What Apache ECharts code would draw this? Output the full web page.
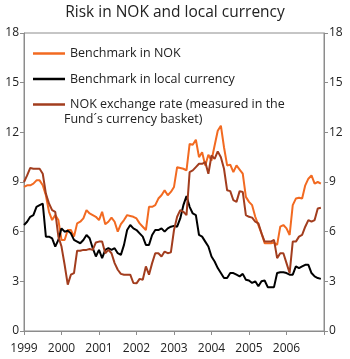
<!DOCTYPE html>
<html>
<head>
<meta charset="utf-8">
<script src="https://cdn.jsdelivr.net/npm/echarts@6/dist/echarts.min.js"></script>
<style>html,body{margin:0;padding:0;background:#fff}#c{width:350px;height:359px}</style>
</head>
<body>
<div id="c"></div>
<script>
// Monthly observations, Jan 1999 .. Dec 2006
const yearLabels = ['1999','2000','2001','2002','2003','2004','2005','2006'];
const yTicks = [0, 3, 6, 9, 12, 15, 18];

const nokBenchmark = [
  8.7, 8.8, 8.8, 8.9, 9.1, 9.1, 8.8, 8.2, 7.2, 6.7, 7.0, 6.7,
  5.5, 5.5, 6.1, 6.1, 5.7, 6.5, 6.6, 6.8, 7.3, 7.1, 7.0, 6.9,
  6.7, 7.2, 6.45, 6.6, 6.85, 6.6, 6.0, 6.45, 6.7, 7.0, 6.95, 6.9,
  6.8, 6.5, 6.3, 6.1, 7.5, 7.5, 7.6, 8.0, 8.2, 8.5, 8.2, 8.4,
  8.7, 9.9, 9.85, 9.8, 9.7, 11.3, 11.25, 11.55, 10.5, 10.8, 10.0, 10.65,
  10.3, 11.2, 12.1, 12.4, 11.1, 10.0, 10.05, 9.6, 10.0, 9.75, 9.5, 8.1,
  7.8, 7.6, 6.9, 6.4, 5.9, 5.3, 5.3, 5.3, 5.35, 5.2, 6.3, 6.4,
  6.2, 5.8, 7.6, 8.0, 8.05, 8.0, 8.8, 9.2, 9.4, 8.9, 9.0, 8.9
];
const localBenchmark = [
  6.4, 6.6, 6.9, 7.0, 7.5, 7.6, 7.7, 5.7, 5.7, 5.6, 5.1, 5.5,
  6.2, 6.0, 6.05, 5.9, 5.5, 5.4, 5.3, 5.5, 5.8, 5.6, 5.0, 4.5,
  4.9, 4.4, 4.9, 5.0, 4.9, 5.0, 4.7, 4.6, 5.2, 6.1, 6.4, 6.2,
  6.1, 5.9, 5.7, 5.2, 5.2, 5.8, 6.1, 6.1, 6.2, 6.0, 6.2, 6.3,
  6.35, 6.3, 6.8, 7.6, 8.15, 7.5, 7.1, 7.0, 5.8, 5.7, 5.4, 5.1,
  4.5, 4.2, 3.8, 3.5, 3.2, 3.2, 3.5, 3.5, 3.4, 3.3, 3.45, 3.1,
  3.05, 2.9, 3.0, 2.7, 3.0, 3.05, 2.65, 2.65, 2.65, 3.5, 3.55, 3.55,
  3.5, 3.4, 3.4, 3.9, 3.8, 3.9, 4.0, 4.0, 3.5, 3.3, 3.2, 3.15
];
const exchangeRate = [
  9.0, 9.4, 9.85, 9.8, 9.8, 9.8, 9.5, 8.3, 7.7, 7.3, 7.2, 5.7,
  5.1, 4.0, 2.8, 3.4, 3.5, 4.85, 4.85, 4.9, 4.9, 4.95, 4.9, 5.35,
  5.4, 5.4, 4.7, 4.9, 4.7, 4.1, 3.7, 3.45, 3.4, 3.4, 3.4, 2.9,
  2.88, 3.15, 3.1, 3.9, 3.4, 4.1, 4.7, 4.7, 4.5, 4.8, 4.7, 4.75,
  6.1, 6.9, 7.3, 7.2, 7.0, 9.6, 9.7, 9.9, 10.1, 10.1, 10.2, 9.5,
  10.6, 10.4, 10.85, 10.5, 9.8, 8.5, 8.45, 7.9, 7.8, 8.45, 8.4, 7.0,
  6.9, 6.85, 6.6, 6.5, 5.9, 5.4, 5.4, 5.4, 5.5, 4.4, 4.7, 4.7,
  4.1, 3.5, 5.4, 5.4, 5.7, 5.8, 6.3, 6.7, 6.6, 6.7, 7.4, 7.45
];

const nameNok = 'Benchmark in NOK';
const nameLocal = 'Benchmark in local currency';
const nameFx = 'NOK exchange rate (measured in the Fund\u00b4s currency basket)';
const fxLine1 = 'NOK exchange rate (measured in the';
const fxLine2 = 'Fund\u00b4s currency basket)';

const FONT = 'Open Sans';
const axisColor = '#8c8c8c';
const toPairs = arr => arr.map((v, i) => [i, v]);

const chart = echarts.init(document.getElementById('c'), null, {renderer: 'canvas'});
const yAxisCommon = {
  type: 'value', min: 0, max: 18, interval: 3,
  axisLine: {show: true, lineStyle: {color: axisColor, width: 1}},
  axisTick: {show: true, length: 4, lineStyle: {color: axisColor}},
  splitLine: {show: false},
  axisLabel: {color: '#222', fontFamily: FONT, fontSize: 12, margin: 5,
    formatter: v => yTicks.indexOf(v) >= 0 ? String(v) : ''}
};
chart.setOption({
  animation: false,
  title: {
    text: 'Risk in NOK and local currency', left: 'center', top: 0,
    textStyle: {fontFamily: FONT, fontSize: 15.5, fontWeight: 'normal', color: '#222'}
  },
  grid: {left: 24, right: 26, top: 33, bottom: 28, show: true, borderColor: axisColor, borderWidth: 1, containLabel: false},
  legend: {
    orient: 'vertical', left: 28, top: 42, itemGap: 12.5,
    icon: 'rect', itemWidth: 32, itemHeight: 2.5,
    textStyle: {fontFamily: FONT, fontSize: 12.5, color: '#222'},
    formatter: n => n === nameFx ? fxLine1 : n,
    data: [nameNok, nameLocal, nameFx]
  },
  graphic: [{
    type: 'text', left: 64, top: 113,
    style: {text: fxLine2, font: '12.5px "' + FONT + '"', fill: '#222'}
  }],
  xAxis: {
    type: 'value', min: 0, max: 96, interval: 12,
    axisLine: {show: true, lineStyle: {color: axisColor}},
    axisTick: {show: true, length: 4, lineStyle: {color: axisColor}},
    splitLine: {show: false},
    axisLabel: {color: '#222', fontFamily: FONT, fontSize: 12, margin: 12,
      formatter: v => (v % 12 === 0 && v / 12 < yearLabels.length) ? yearLabels[v / 12] : ''}
  },
  yAxis: [
    Object.assign({position: 'left'}, yAxisCommon),
    Object.assign({position: 'right'}, yAxisCommon)
  ],
  series: [
    {name: nameNok, type: 'line', data: toPairs(nokBenchmark), showSymbol: false,
      lineStyle: {color: '#f26a21', width: 2}, itemStyle: {color: '#f26a21'}},
    {name: nameLocal, type: 'line', data: toPairs(localBenchmark), showSymbol: false,
      lineStyle: {color: '#000000', width: 2}, itemStyle: {color: '#000000'}},
    {name: nameFx, type: 'line', data: toPairs(exchangeRate), showSymbol: false,
      lineStyle: {color: '#a23d1e', width: 2}, itemStyle: {color: '#a23d1e'}}
  ]
});
</script>
</body>
</html>
